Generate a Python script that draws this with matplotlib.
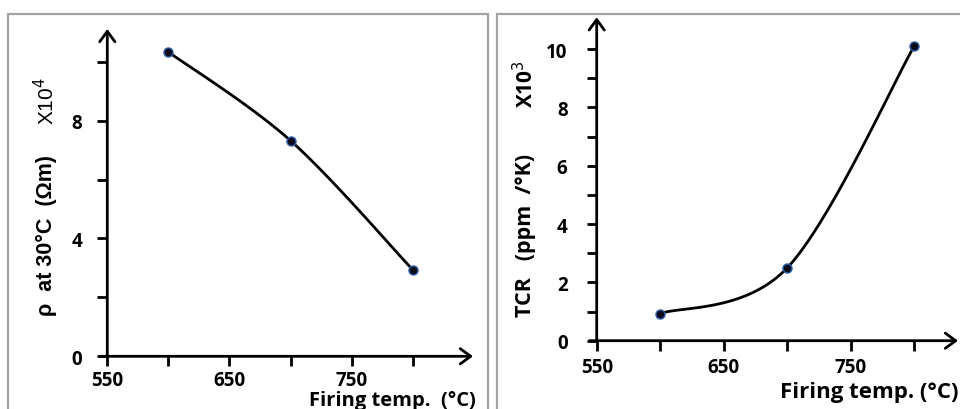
import numpy as np
import matplotlib
matplotlib.use("Agg")
import matplotlib.pyplot as plt
from matplotlib.patches import Rectangle
from matplotlib.ticker import FixedLocator, FixedFormatter

# Firing temperatures (°C)
firing_temp = [600, 700, 800]
# Resistivity at 30 °C, in units of 10^4 Ω·m
resistivity = [10.33, 7.32, 2.94]
# Temperature coefficient of resistance, in units of 10^3 ppm/°K
tcr = [0.93, 2.50, 10.11]

x_ticks = [550, 600, 650, 700, 750, 800]
x_tick_labels = ["550", "", "650", "", "750", ""]
rho_ticks = [0, 2, 4, 6, 8, 10]
rho_tick_labels = ["0", "", "4", "", "8", ""]
tcr_ticks = list(range(0, 11))
tcr_tick_labels = ["0", "", "2", "", "4", "", "6", "", "8", "", "10"]

FONT = ["Open Sans", "DejaVu Sans"]
plt.rcParams["font.family"] = FONT

W, H = 960, 410
fig = plt.figure(figsize=(W / 100, H / 100), dpi=100)


def px_axes(left, top, right, bottom):
    return fig.add_axes([left / W, 1 - bottom / H, (right - left) / W, (bottom - top) / H])


def smooth_curve(xs, ys, n=60):
    """Piecewise cubic Bezier through the points (Catmull-Rom style tangents)."""
    p = np.column_stack([xs, ys]).astype(float)
    pts = []
    for i in range(len(p) - 1):
        p0 = p[i - 1] if i > 0 else p[i]
        p1, p2 = p[i], p[i + 1]
        p3 = p[i + 2] if i + 2 < len(p) else p[i + 1]
        c1 = p1 + (p2 - p0) / 6.0
        c2 = p2 - (p3 - p1) / 6.0
        t = np.linspace(0, 1, n)[:, None]
        seg = ((1 - t) ** 3) * p1 + 3 * ((1 - t) ** 2) * t * c1 + 3 * (1 - t) * t ** 2 * c2 + t ** 3 * p2
        pts.append(seg if i == 0 else seg[1:])
    pts = np.vstack(pts)
    return pts[:, 0], pts[:, 1]


def style_axes(ax, xlim, ylim, yticks, ylabels, ypad, xpad):
    ax.set_xlim(*xlim)
    ax.set_ylim(*ylim)
    for s in ax.spines.values():
        s.set_visible(False)
    ax.patch.set_alpha(0)
    ax.xaxis.set_major_locator(FixedLocator(x_ticks))
    ax.xaxis.set_major_formatter(FixedFormatter(x_tick_labels))
    ax.yaxis.set_major_locator(FixedLocator(yticks))
    ax.yaxis.set_major_formatter(FixedFormatter(ylabels))
    ax.tick_params(axis="both", direction="out", length=7, width=2, color="black",
                   labelsize=13.5)
    ax.tick_params(axis="y", pad=ypad)
    ax.tick_params(axis="x", pad=xpad)
    for lab in ax.get_xticklabels() + ax.get_yticklabels():
        lab.set_fontweight("bold")
    arrow = dict(arrowstyle="->,head_length=0.75,head_width=0.55", lw=2, color="black",
                 shrinkA=0, shrinkB=0, mutation_scale=10)
    ax.annotate("", xy=(0, 1), xytext=(0, 0), xycoords="axes fraction",
                textcoords="axes fraction", arrowprops=arrow, annotation_clip=False)
    ax.annotate("", xy=(1, 0), xytext=(-0.02, 0), xycoords="axes fraction",
                textcoords="axes fraction", arrowprops=arrow, annotation_clip=False)


def draw_series(ax, xs, ys):
    cx, cy = smooth_curve(xs, ys)
    ax.plot(cx, cy, color="black", lw=2, clip_on=False, zorder=3)
    ax.plot(xs, ys, linestyle="none", marker="o", markersize=6.5,
            markerfacecolor="#0b0b1c", markeredgecolor="#2d5da8", markeredgewidth=1,
            clip_on=False, zorder=4)


# panel frames
border = "#a3a3a3"
fig.patches.append(Rectangle((8 / W, -0.1), (488 - 8) / W, 1 - 15 / H + 0.1,
                             transform=fig.transFigure, fill=False, ec=border, lw=1.6))
fig.patches.append(Rectangle((497 / W, -0.1), 0.6, 1 - 15 / H + 0.1,
                             transform=fig.transFigure, fill=False, ec=border, lw=1.6))

# left panel: resistivity
ax1 = px_axes(107.3, 30, 473, 357.3)
style_axes(ax1, (550, 849.4), (0, 11.11), rho_ticks, rho_tick_labels, ypad=11, xpad=3)
draw_series(ax1, firing_temp, resistivity)
fig.text(46 / W, 1 - 236 / H, "ρ  at 30°C  (Ωm)", rotation=90, ha="center", va="center",
         fontsize=15.5, fontweight="bold", family=["Liberation Sans", "DejaVu Sans"])
fig.text(46 / W, 1 - 101 / H, "X10$^{4}$", rotation=90, ha="center", va="center",
         fontsize=15, family=["Liberation Sans", "DejaVu Sans"])
fig.text(476 / W, 1 - 401 / H, "Firing temp.  (°C)", ha="right", va="center",
         fontsize=14.5, fontweight="bold")

# right panel: TCR
ax2 = px_axes(596.7, 18.3, 958, 341.7)
style_axes(ax2, (550, 834.4), (0, 11.09), tcr_ticks, tcr_tick_labels, ypad=14, xpad=5)
draw_series(ax2, firing_temp, tcr)
fig.text(526 / W, 1 - 235 / H, "TCR   (ppm  /°K)", rotation=90, ha="center", va="center",
         fontsize=15.5, fontweight="bold")
fig.text(526 / W, 1 - 84 / H, "X10$^{3}$", rotation=90, ha="center", va="center",
         fontsize=15, fontweight="bold")
fig.text(959 / W, 1 - 393 / H, "Firing temp. (°C)", ha="right", va="center",
         fontsize=16, fontweight="bold")

fig.savefig("out.png", dpi=100)
